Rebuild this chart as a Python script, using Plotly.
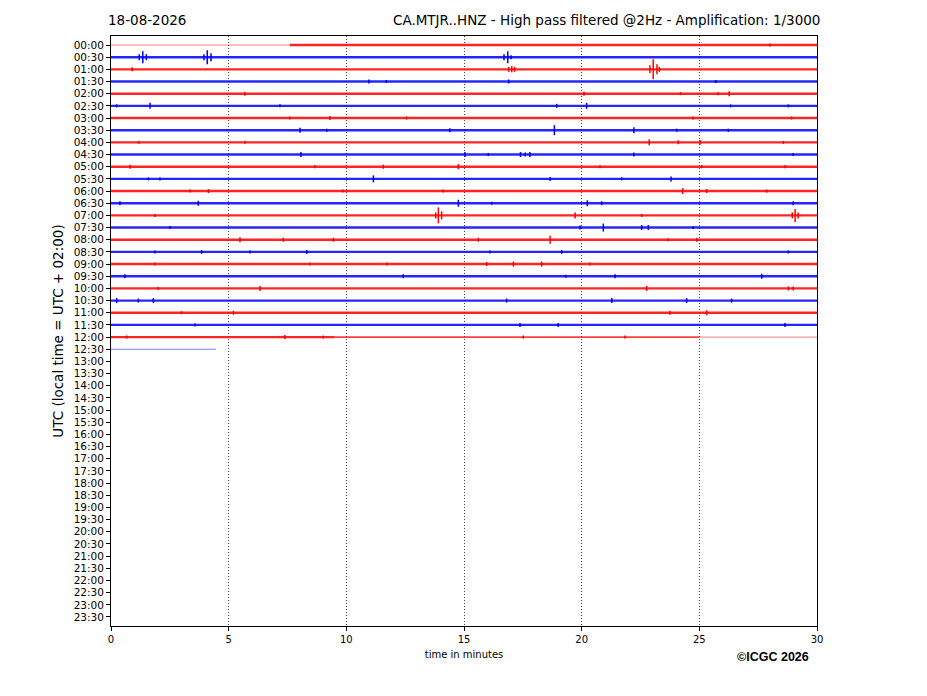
import plotly.graph_objects as go

# helicorder rows: one every 30 minutes
row_labels = [f"{h:02d}:{m:02d}" for h in range(24) for m in (0, 30)]
row_colors = ["#ff0000", "#0000ff"]

# part of each recorded row that carries full signal (minutes)
noisy_from = [7.6] + [0.0] * 24
noisy_to = [30.0] * 24 + [9.5]
# quieter stretches (row index, from, to)
medium_parts = [(24, 9.5, 25.0)]
# rows that only show a thin trace (row index, from, to)
thin_parts = [(0, 0.0, 7.6), (24, 25.0, 30.0), (25, 0.0, 4.46)]

# visible spikes per row: (minute, half height in pixels)
spikes = {
    0: [(28.0, 1.5)],
    1: [(1.35, 6), (1.2, 3), (1.5, 3), (4.09, 7), (3.95, 3), (4.25, 4), (16.86, 6), (16.7, 3), (17.0, 2)],
    2: [(0.9, 2), (17.03, 3), (16.9, 2.5), (17.15, 2.5), (23.04, 10), (22.9, 4), (23.2, 5), (23.3, 2.5)],
    3: [(10.96, 2), (11.7, 1.5), (16.9, 2), (25.7, 1.5)],
    4: [(5.69, 2), (20.1, 2), (24.2, 1.5), (25.8, 1.5), (26.27, 2.5)],
    5: [(0.24, 1.5), (1.66, 3), (7.18, 1.5), (18.94, 2), (20.21, 3), (26.33, 1.5), (28.78, 1.5)],
    6: [(7.6, 1.5), (9.3, 2), (12.56, 1.5), (24.73, 1.5), (28.92, 1.5)],
    7: [(8.03, 2.5), (9.17, 1.5), (14.4, 2), (18.84, 5), (22.22, 3), (24.04, 1.5), (26.23, 1.5)],
    8: [(1.19, 1.5), (5.69, 1.5), (22.87, 3), (24.1, 2), (25.03, 2.5), (28.57, 1.5)],
    9: [(8.07, 2.5), (15.04, 2.5), (16.03, 1.5), (17.4, 2.5), (17.6, 2), (17.8, 2.5), (22.22, 2), (28.99, 1.5)],
    10: [(0.81, 2), (8.67, 1.5), (11.57, 2), (14.76, 2.5), (20.78, 1.5), (25.1, 1.5), (28.64, 1.5)],
    11: [(1.59, 1.5), (2.08, 1.5), (11.15, 3.5), (18.66, 2), (21.7, 1.5), (23.8, 2.5)],
    12: [(3.36, 1.5), (4.14, 2), (9.85, 1.5), (14.12, 1.5), (24.29, 3), (25.31, 2), (27.86, 1.5)],
    13: [(0.38, 2), (3.71, 2.5), (14.76, 3.5), (16.18, 1.5), (20.24, 3), (20.85, 2), (28.99, 2)],
    14: [(1.87, 1.5), (13.91, 8), (13.8, 3), (14.05, 4), (19.72, 3), (22.55, 1.5), (29.07, 6.5), (28.95, 3), (29.2, 3)],
    15: [(2.51, 1.5), (19.93, 2), (20.92, 4), (22.55, 2.5), (22.83, 2.5), (24.74, 1.5)],
    16: [(5.48, 2.5), (7.32, 2), (9.45, 2), (15.61, 2), (18.66, 4), (23.68, 1.5), (24.89, 2)],
    17: [(1.87, 1.5), (3.85, 2), (5.91, 1.5), (8.32, 2), (16.1, 1.5), (19.15, 2), (28.78, 1.5)],
    18: [(1.87, 1.5), (8.46, 1.5), (11.72, 1.5), (15.96, 2), (17.1, 2.5), (18.3, 2.5), (20.35, 1.5)],
    19: [(0.59, 2), (12.42, 2), (19.33, 1.5), (21.42, 2), (27.65, 2.5)],
    20: [(2.01, 1.5), (6.33, 2.5), (22.76, 2.5), (28.78, 2), (28.99, 2)],
    21: [(0.24, 2.5), (1.16, 2), (1.8, 2.5), (16.81, 2), (21.28, 2.5), (24.46, 2.5), (26.37, 2)],
    22: [(3.0, 1.5), (5.2, 2), (23.75, 2), (25.31, 2.5)],
    23: [(3.57, 1.5), (17.38, 2), (19.0, 2), (28.64, 2)],
    24: [(0.67, 1.5), (7.39, 2), (9.02, 1.5), (17.52, 1.5), (21.84, 1.5)],
}

px_per_row = 12.17

fig = go.Figure()

for i in range(len(noisy_from)):
    col = row_colors[i % 2]
    fig.add_trace(go.Scatter(
        x=[noisy_from[i], noisy_to[i]], y=[i, i], mode="lines",
        line=dict(color=col, width=2.4), opacity=0.85,
        hoverinfo="skip", showlegend=False,
    ))

for row, x0, x1 in medium_parts:
    fig.add_trace(go.Scatter(
        x=[x0, x1], y=[row, row], mode="lines",
        line=dict(color=row_colors[row % 2], width=1.6), opacity=0.75,
        hoverinfo="skip", showlegend=False,
    ))

for row, x0, x1 in thin_parts:
    fig.add_trace(go.Scatter(
        x=[x0, x1], y=[row, row], mode="lines",
        line=dict(color=row_colors[row % 2], width=1), opacity=0.5,
        hoverinfo="skip", showlegend=False,
    ))

for row, items in spikes.items():
    xs, ys = [], []
    for t, h in items:
        a = h / px_per_row
        xs += [t, t, None]
        ys += [row - a, row + a, None]
    fig.add_trace(go.Scatter(
        x=xs, y=ys, mode="lines",
        line=dict(color=row_colors[row % 2], width=1.5),
        hoverinfo="skip", showlegend=False,
    ))

font = "DejaVu Sans, Liberation Sans, sans-serif"

fig.update_layout(
    width=927, height=696,
    margin=dict(l=103, r=118, t=28, b=78),
    plot_bgcolor="white", paper_bgcolor="white",
    font=dict(family=font, color="black", size=11),
    xaxis=dict(
        range=[0, 30], tickvals=[0, 5, 10, 15, 20, 25, 30],
        showgrid=True, gridcolor="#444444", griddash="1px,2px", gridwidth=0.7,
        zeroline=False, showline=True, linecolor="black", linewidth=1, mirror=True,
        ticks="outside", ticklen=4, tickcolor="black", tickfont=dict(size=10),
        title=dict(text="time in minutes", font=dict(size=10), standoff=6),
    ),
    yaxis=dict(
        range=[47.74, -0.74], tickvals=list(range(len(row_labels))), ticktext=row_labels,
        showgrid=False, zeroline=False, showline=True, linecolor="black", linewidth=1, mirror=True,
        ticks="outside", ticklen=4, tickcolor="black", tickfont=dict(size=10.5),
        title=dict(text="UTC (local time = UTC + 02:00)", font=dict(size=13.5), standoff=6),
    ),
    annotations=[
        dict(text="18-08-2026", x=0, y=1.0, xref="paper", yref="paper", xanchor="left", yanchor="bottom",
             xshift=-5, yshift=6, showarrow=False, font=dict(size=13.5)),
        dict(text="CA.MTJR..HNZ - High pass filtered @2Hz - Amplification: 1/3000",
             x=1, y=1.0, xref="paper", yref="paper", xanchor="right", yanchor="bottom",
             xshift=5, yshift=6, showarrow=False, font=dict(size=13.5)),
        dict(text="<b>©ICGC 2026</b>", x=0.937, y=0, xref="paper", yref="paper",
             xanchor="center", yanchor="top", yshift=-22, showarrow=False,
             font=dict(size=12.5, family="Liberation Sans, Arial, sans-serif")),
    ],
)

fig.write_html("out.html")
